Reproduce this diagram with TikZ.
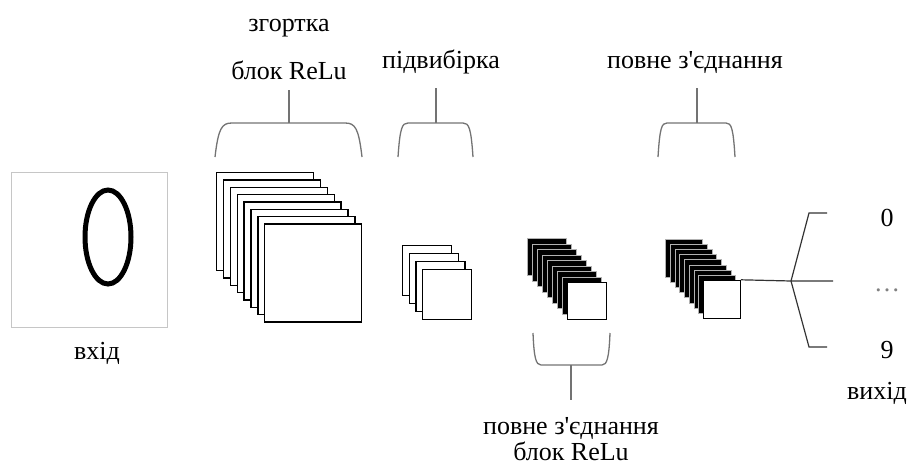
\documentclass[tikz,border=0pt]{standalone}
\usepackage{fontspec}
\setmainfont{Liberation Serif}
\usepackage{tikz}

\begin{document}
\begin{tikzpicture}
[x=1pt,y=-1pt,%
    labelDecorate/.style={font=\fontsize{26}{30}\selectfont,inner sep=0pt},%
    layerDecorate/.style={shape=rectangle,anchor=north west,inner sep=0pt},%
    bracketDecorate/.style={draw=black!55,line width=1.3pt},%
    outLineDecorate/.style={draw=black!80,line width=1.2pt}]
    \useasboundingbox (0,0) rectangle (909,466);
    %% input image
    \node (inputBox) at (11,172) [anchor=north west,inner sep=0pt,minimum width=156pt,minimum height=155pt,draw=gray!45,line width=1.4pt] {};
    \draw[line width=5pt] (108,237) ellipse [x radius=23, y radius=47];
    \node (inputLabel) at (97,353) [labelDecorate] {вхід};
    %% stacks of feature maps
    \foreach \stackname/\layers/\x/\y/\dx/\dy/\w/\h/\backfill/\backdraw/\lw in {conv/8/216/172/6.86/7.3/97/98/white/black/1.4, pool/4/402/245/6.67/8/49/50/white/black/1.4, fcA/9/527/238/5/5.5/39/37/black/gray!60/0.9, fcB/9/665/239/4.75/5.1/37/38/black/gray!60/0.9}
    {
        \foreach \i in {1,...,\layers}
        {
            \ifnum\i=\layers \def\layerfill{white}\def\layerdraw{black}\else \def\layerfill{\backfill}\def\layerdraw{\backdraw}\fi
            \node (\stackname\i) at ({\x+\dx*(\i-1)},{\y+\dy*(\i-1)}) [layerDecorate,draw=\layerdraw,fill=\layerfill,line width=\lw pt,minimum width=\w*1pt,minimum height=\h*1pt] {};
        }
    }
    %% upper brackets
    \foreach \brname/\xl/\xr/\xm/\ys/\r in {convBr/215/362/289/90/17, poolBr/398/473/436/88/10, fcBr/658/735/697/88/9}
    {
        \coordinate (\brname) at (\xm,\ys);
        \draw[bracketDecorate] (\xl,157) .. controls ({\xl+0.2*\r},128) and ({\xl+0.4*\r},123) .. ({\xl+\r},123) -- ({\xr-\r},123) .. controls ({\xr-0.4*\r},123) and ({\xr-0.2*\r},128) .. (\xr,157);
        \draw[bracketDecorate] (\brname) -- (\xm,123);
    }
    %% lower bracket
    \coordinate (fcABr) at (571,400);
    \draw[bracketDecorate] (533,333) .. controls (534,358) and (536,365) .. (541,365) -- (602,365) .. controls (607,365) and (609,358) .. (610,333);
    \draw[bracketDecorate] (571,365) -- (fcABr);
    %% labels
    \node (convText) at (289,28) [labelDecorate] {згортка};
    \node (convReluText) at (289,70) [labelDecorate] {блок ReLu};
    \node (poolText) at (441,62) [labelDecorate] {підвибірка};
    \node (fcBText) at (695,62) [labelDecorate] {повне з\textquotesingle єднання};
    \node (fcAText) at (571,428) [labelDecorate] {повне з\textquotesingle єднання};
    \node (fcAReluText) at (571,451) [labelDecorate] {блок ReLu};
    %% output
    \coordinate (fork) at (791,281);
    \coordinate (outMid) at (833,281);
    \coordinate (outTop) at (809,213);
    \coordinate (outTopEnd) at (827,213);
    \coordinate (outBot) at (809,347);
    \coordinate (outBotEnd) at (827,347);
    \draw[outLineDecorate] (fcB9.north east) -- (fork) -- (outMid);
    \draw[outLineDecorate] (fork) -- (outTop) -- (outTopEnd);
    \draw[outLineDecorate] (fork) -- (outBot) -- (outBotEnd);
    \node (outZero) at (887,218) [labelDecorate] {0};
    \node (outDots) at (887,290) [labelDecorate,text=gray] {\ldots};
    \node (outNine) at (887,350) [labelDecorate] {9};
    \node (outLabel) at (877,393) [labelDecorate] {вихід};
\end{tikzpicture}
\end{document}
